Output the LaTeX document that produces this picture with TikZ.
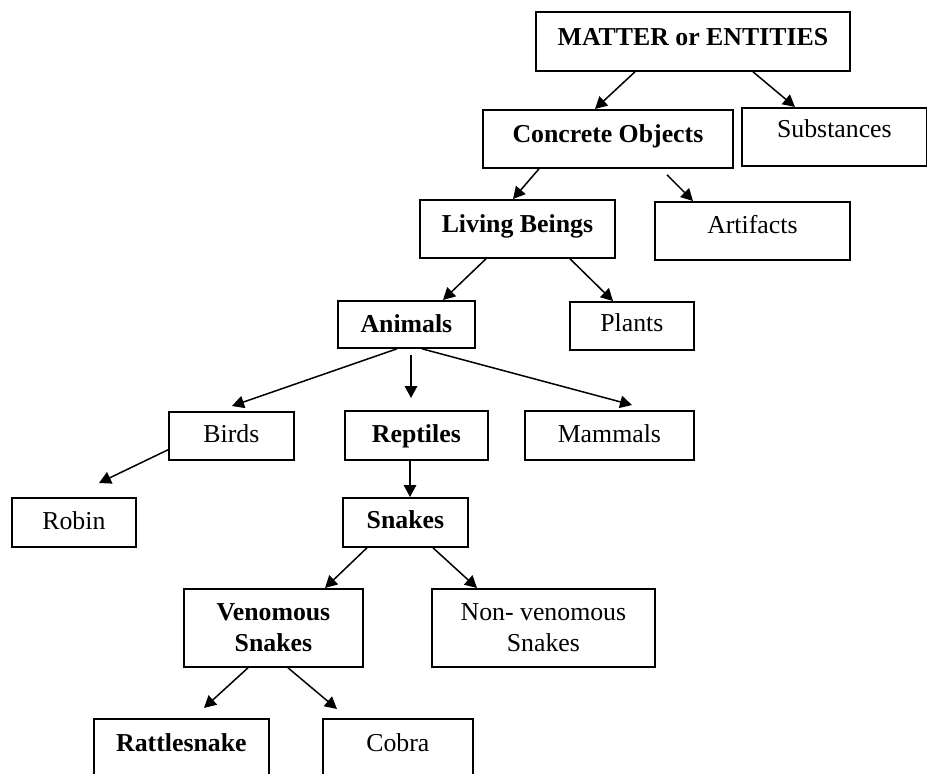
\documentclass[tikz,border=0pt]{standalone}
\usepackage{fontspec}
\setmainfont{Liberation Serif}
\usetikzlibrary{arrows.meta,calc}

\tikzset{
  box/.style={draw, line width=1.8pt, inner xsep=0pt, inner ysep=0pt,
              anchor=north west, align=center,
              font=\fontsize{25.8}{31}\selectfont},
  bbox/.style={box, font=\fontsize{25.8}{31}\selectfont\bfseries},
  arr/.style={line width=1.5pt, -{Triangle[length=12pt,width=12.5pt]}}
}

\begin{document}
\begin{tikzpicture}[x=1pt, y=-1pt]
\useasboundingbox (0,0) rectangle (927,774);
\clip (0,0) rectangle (927,774);

% boxes: top-left corner, width, space above and below the baseline
\node[bbox, minimum width=314, text height=34, text depth=25] (matter)   at (535,11)  {MATTER or ENTITIES};
\node[bbox, minimum width=250, text height=33, text depth=25] (concrete) at (482,109) {Concrete Objects};
\node[box,  minimum width=185, text height=30, text depth=28] (subst)    at (741,107) {Substances};
\node[bbox, minimum width=195, text height=33, text depth=25] (living)   at (419,199) {Living Beings};
\node[box,  minimum width=195, text height=32, text depth=26] (artif)    at (654,201) {Artifacts};
\node[bbox, minimum width=137, text height=32, text depth=15] (animals)  at (337,300) {Animals};
\node[box,  minimum width=124, text height=30, text depth=18] (plants)   at (569,301) {Plants};
\node[box,  minimum width=125, text height=31, text depth=17] (birds)    at (168,411) {Birds};
\node[bbox, minimum width=143, text height=32, text depth=17] (reptiles) at (344,410) {Reptiles};
\node[box,  minimum width=169, text height=32, text depth=17] (mammals)  at (524,410) {Mammals};
\node[box,  minimum width=124, text height=32, text depth=17] (robin)    at (11,497)  {Robin};
\node[bbox, minimum width=125, text height=31, text depth=18] (snakes)   at (342,497) {Snakes};
\node[bbox, minimum width=179, minimum height=78] (venom)  at (183,588) {Venomous\\Snakes};
\node[box,  minimum width=223, minimum height=78] (nonven) at (431,588) {Non- venomous\\Snakes};
\node[bbox, minimum width=175, text height=33, text depth=45] (rattle)   at (93,718)  {Rattlesnake};
\node[box,  minimum width=150, text height=33, text depth=45] (cobra)    at (322,718) {Cobra};

% connectors
\draw[arr] ($(matter.south west)+(100,0)$)   -- ($(concrete.north west)+(113,0)$);
\draw[arr] ($(matter.south west)+(218,0)$)   -- ($(subst.north west)+(54,0)$);
\draw[arr] ($(concrete.south west)+(57,0)$)  -- ($(living.north west)+(94,0)$);
\draw[arr] ($(concrete.south west)+(185,6)$) -- ($(artif.north west)+(39,0)$);
\draw[arr] ($(living.south west)+(67,0)$)    -- ($(animals.north west)+(106,0)$);
\draw[arr] ($(living.south west)+(151,0)$)   -- ($(plants.north west)+(44,0)$);
\draw[arr] ($(animals.south west)+(60,0)$)   -- ($(birds.north west)+(64,-5)$);
\draw[arr] ($(animals.south west)+(74,6)$)   -- ($(reptiles.north west)+(67,-12)$);
\draw[arr] ($(animals.south west)+(85,0)$)   -- ($(mammals.north west)+(108,-5)$);
\draw[arr] ($(birds.south west)+(0,-11)$)    -- ($(robin.north west)+(88,-14)$);
\draw[arr] ($(reptiles.south west)+(66,0)$)  -- ($(snakes.north west)+(68,0)$);
\draw[arr] ($(snakes.south west)+(25,0)$)    -- ($(venom.north west)+(142,0)$);
\draw[arr] ($(snakes.south west)+(91,0)$)    -- ($(nonven.north west)+(46,0)$);
\draw[arr] ($(venom.south west)+(65,0)$)     -- ($(rattle.north west)+(111,-10)$);
\draw[arr] ($(venom.south west)+(105,0)$)    -- ($(cobra.north west)+(15,-9)$);
\end{tikzpicture}
\end{document}
